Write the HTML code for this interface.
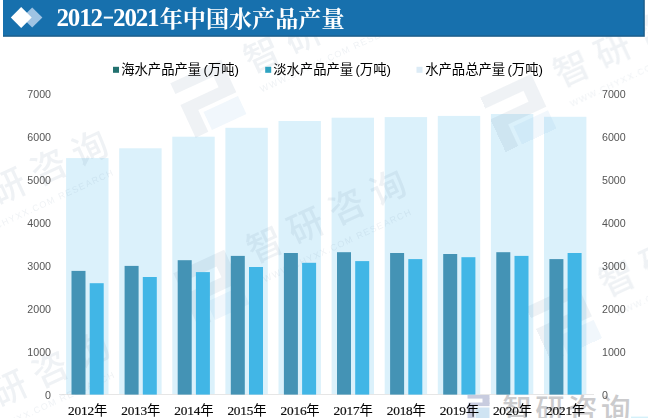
<!DOCTYPE html>
<html lang="zh"><head><meta charset="utf-8"><title>2012-2021年中国水产品产量</title>
<style>
html,body{margin:0;padding:0;background:#fff;}
body{width:648px;height:418px;overflow:hidden;position:relative;font-family:"Liberation Sans",sans-serif;}
#wrap{position:absolute;left:0;top:0;width:648px;height:418px;overflow:hidden;background:#fff;}
#ttl{position:absolute;left:58.3px;top:3.5px;font-family:"Liberation Serif",serif;font-weight:bold;font-size:22.67px;line-height:26px;color:transparent;white-space:nowrap;letter-spacing:0;}
.yl{position:absolute;font-size:10.67px;line-height:12px;height:12px;color:#555;white-space:nowrap;}
.yl.l{left:20px;width:31px;text-align:right;}
.yl.r{left:602px;text-align:left;}
.xl{position:absolute;top:402.5px;letter-spacing:-0.2px;-webkit-text-stroke:0.2px #111;font-family:"Liberation Serif","Noto Sans CJK SC",serif;font-size:13.33px;line-height:15px;color:#111;white-space:nowrap;}
.xl span{font-family:"Liberation Sans","Noto Sans CJK SC",sans-serif;-webkit-text-stroke:0;color:#000;}
.sr{position:absolute;color:transparent;font-size:13px;line-height:15px;white-space:nowrap;overflow:hidden;}
svg{position:absolute;left:0;top:0;}
</style></head><body><div id="wrap">
<svg width="648" height="418" viewBox="0 0 648 418">
<rect x="66.10" y="158.10" width="42.40" height="236.50" fill="#dbf1fb"/>
<rect x="119.20" y="148.30" width="42.40" height="246.30" fill="#dbf1fb"/>
<rect x="172.30" y="136.70" width="42.40" height="257.90" fill="#dbf1fb"/>
<rect x="225.40" y="127.80" width="42.40" height="266.80" fill="#dbf1fb"/>
<rect x="278.50" y="121.00" width="42.40" height="273.60" fill="#dbf1fb"/>
<rect x="331.60" y="117.70" width="42.40" height="276.90" fill="#dbf1fb"/>
<rect x="384.70" y="117.10" width="42.40" height="277.50" fill="#dbf1fb"/>
<rect x="437.80" y="115.90" width="42.40" height="278.70" fill="#dbf1fb"/>
<rect x="490.90" y="114.00" width="42.40" height="280.60" fill="#dbf1fb"/>
<rect x="544.00" y="116.80" width="42.40" height="277.80" fill="#dbf1fb"/>
<rect x="59" y="394" width="535" height="1" fill="#e6e6e6"/>
<rect x="631" y="416.6" width="17" height="1.4" fill="#d5f1fa"/>
<g fill="#cbcbcd"><text y="419.9" x="502.30 535.20 568.10 601.00" font-family="Liberation Sans, Noto Sans CJK SC, sans-serif" font-weight="500" font-size="29.6">智研咨询</text></g><g fill="#c8ccdf"><rect x="467.5" y="395" width="22" height="3.6"/><rect x="482.5" y="398" width="7" height="6"/><rect x="468.5" y="402.5" width="21" height="3.6"/><rect x="467.5" y="405" width="7" height="13"/></g><rect x="475.5" y="407.5" width="14" height="10.5" fill="#cfe4f3"/>
<g fill="#5a7896" opacity="0.095"><g transform="translate(-33.0 205.5) rotate(-24.9)"><text y="12.42" x="-17.75 27.45 72.65 117.85" font-family="Liberation Sans, Noto Sans CJK SC, sans-serif" font-weight="500" font-size="35.5">智研咨询</text><text x="-16" y="34" font-family="Liberation Sans, sans-serif" font-size="9" letter-spacing="1.3">WWW.CHYXX.COM  RESEARCH</text><path d="M-95 -13h56v36h-42v24h-14v-36h42v-12h-42z"/><rect x="-77" y="27" width="38" height="20" fill="#6aa8dc"/></g><g transform="translate(262.0 55.0) rotate(-24.9)"><text y="12.42" x="-17.75 27.45 72.65 117.85" font-family="Liberation Sans, Noto Sans CJK SC, sans-serif" font-weight="500" font-size="35.5">智研咨询</text><text x="-16" y="34" font-family="Liberation Sans, sans-serif" font-size="9" letter-spacing="1.3">WWW.CHYXX.COM  RESEARCH</text><path d="M-95 -13h56v36h-42v24h-14v-36h42v-12h-42z"/><rect x="-77" y="27" width="38" height="20" fill="#6aa8dc"/></g><g transform="translate(572.0 69.4) rotate(-24.9)"><text y="12.42" x="-17.75 27.45 72.65 117.85" font-family="Liberation Sans, Noto Sans CJK SC, sans-serif" font-weight="500" font-size="35.5">智研咨询</text><text x="-16" y="34" font-family="Liberation Sans, sans-serif" font-size="9" letter-spacing="1.3">WWW.CHYXX.COM  RESEARCH</text><path d="M-95 -13h56v36h-42v24h-14v-36h42v-12h-42z"/><rect x="-77" y="27" width="38" height="20" fill="#6aa8dc"/></g><g transform="translate(265.0 245.0) rotate(-24.9)"><text y="12.42" x="-17.75 27.45 72.65 117.85" font-family="Liberation Sans, Noto Sans CJK SC, sans-serif" font-weight="500" font-size="35.5">智研咨询</text><text x="-16" y="34" font-family="Liberation Sans, sans-serif" font-size="9" letter-spacing="1.3">WWW.CHYXX.COM  RESEARCH</text><path d="M-95 -13h56v36h-42v24h-14v-36h42v-12h-42z"/><rect x="-77" y="27" width="38" height="20" fill="#6aa8dc"/></g><g transform="translate(-31.6 407.7) rotate(-24.9)"><text y="12.42" x="-17.75 27.45 72.65 117.85" font-family="Liberation Sans, Noto Sans CJK SC, sans-serif" font-weight="500" font-size="35.5">智研咨询</text><text x="-16" y="34" font-family="Liberation Sans, sans-serif" font-size="9" letter-spacing="1.3">WWW.CHYXX.COM  RESEARCH</text><path d="M-95 -13h56v36h-42v24h-14v-36h42v-12h-42z"/><rect x="-77" y="27" width="38" height="20" fill="#6aa8dc"/></g><g transform="translate(617.6 279.0) rotate(-24.9)"><text y="12.42" x="-17.75 27.45 72.65 117.85" font-family="Liberation Sans, Noto Sans CJK SC, sans-serif" font-weight="500" font-size="35.5">智研咨询</text><text x="-16" y="34" font-family="Liberation Sans, sans-serif" font-size="9" letter-spacing="1.3">WWW.CHYXX.COM  RESEARCH</text><path d="M-95 -13h56v36h-42v24h-14v-36h42v-12h-42z"/><rect x="-77" y="27" width="38" height="20" fill="#6aa8dc"/></g></g>
<rect x="71.50" y="270.90" width="14" height="123.70" fill="#4493b5"/>
<rect x="89.70" y="283.20" width="14" height="111.40" fill="#41b6e6"/>
<rect x="124.60" y="265.90" width="14" height="128.70" fill="#4493b5"/>
<rect x="142.80" y="277.00" width="14" height="117.60" fill="#41b6e6"/>
<rect x="177.70" y="260.20" width="14" height="134.40" fill="#4493b5"/>
<rect x="195.90" y="272.10" width="14" height="122.50" fill="#41b6e6"/>
<rect x="230.80" y="255.90" width="14" height="138.70" fill="#4493b5"/>
<rect x="249.00" y="267.00" width="14" height="127.60" fill="#41b6e6"/>
<rect x="283.90" y="253.00" width="14" height="141.60" fill="#4493b5"/>
<rect x="302.10" y="262.80" width="14" height="131.80" fill="#41b6e6"/>
<rect x="337.00" y="252.20" width="14" height="142.40" fill="#4493b5"/>
<rect x="355.20" y="261.10" width="14" height="133.50" fill="#41b6e6"/>
<rect x="390.10" y="253.00" width="14" height="141.60" fill="#4493b5"/>
<rect x="408.30" y="259.10" width="14" height="135.50" fill="#41b6e6"/>
<rect x="443.20" y="254.00" width="14" height="140.60" fill="#4493b5"/>
<rect x="461.40" y="257.20" width="14" height="137.40" fill="#41b6e6"/>
<rect x="496.30" y="252.20" width="14" height="142.40" fill="#4493b5"/>
<rect x="514.50" y="255.90" width="14" height="138.70" fill="#41b6e6"/>
<rect x="549.40" y="259.10" width="14" height="135.50" fill="#4493b5"/>
<rect x="567.60" y="253.00" width="14" height="141.60" fill="#41b6e6"/>
<rect x="113.0" y="66.8" width="6" height="6" fill="#22716f"/>
<g fill="#000"><text y="73.7" x="121.20 134.53 147.86 161.19 174.52 187.85 203.44 207.85 221.18 234.41" font-family="Liberation Sans, Noto Sans CJK SC, sans-serif" font-size="13.33">海水产品产量(万吨)</text></g>
<rect x="265.2" y="66.8" width="6" height="6" fill="#2fa3c1"/>
<g fill="#000"><text y="73.7" x="273.20 286.53 299.86 313.19 326.52 339.85 355.44 359.84 373.17 386.40" font-family="Liberation Sans, Noto Sans CJK SC, sans-serif" font-size="13.33">淡水产品产量(万吨)</text></g>
<rect x="416.5" y="66.8" width="6" height="6" fill="#dcebf6"/>
<g fill="#000"><text y="73.7" x="425.20 438.53 451.86 465.19 478.52 491.85 507.44 511.84 525.17 538.40" font-family="Liberation Sans, Noto Sans CJK SC, sans-serif" font-size="13.33">水产品总产量(万吨)</text></g>
<rect x="3" y="0" width="641.8" height="36.8" fill="#1c5d89"/><rect x="3" y="0" width="640.4" height="35.4" fill="#1770ad"/>
<polygon points="22,17.6 32.2,7.6 42.4,17.6 32.2,27.6" fill="#9fc3e3"/>
<polygon points="10.8,17.5 21.2,7 31.7,17.5 21.2,28" fill="#fff"/>
<g fill="#fff"><text y="26.6" x="159.70 182.80 205.90 229.00 252.10 275.20 298.30 321.40" font-family="Liberation Serif, Noto Serif CJK SC, serif" font-weight="bold" font-size="23.1">年中国水产品产量</text></g>
<g font-family="Liberation Serif, serif" font-weight="bold" font-size="25" fill="#fff"><text y="25.6" x="56.50 67.82 79.14 90.46">2012</text><rect x="103.8" y="16.6" width="9.2" height="2"/><text y="25.6" x="113.10 124.42 135.74 147.06">2021</text></g></svg>
<div id="ttl">2012-2021年中国水产品产量</div>
<div class="yl l" style="top:388.8px">0</div><div class="yl r" style="top:388.8px">0</div>
<div class="yl l" style="top:345.9px">1000</div><div class="yl r" style="top:345.9px">1000</div>
<div class="yl l" style="top:303.0px">2000</div><div class="yl r" style="top:303.0px">2000</div>
<div class="yl l" style="top:260.1px">3000</div><div class="yl r" style="top:260.1px">3000</div>
<div class="yl l" style="top:217.2px">4000</div><div class="yl r" style="top:217.2px">4000</div>
<div class="yl l" style="top:174.3px">5000</div><div class="yl r" style="top:174.3px">5000</div>
<div class="yl l" style="top:131.3px">6000</div><div class="yl r" style="top:131.3px">6000</div>
<div class="yl l" style="top:88.4px">7000</div><div class="yl r" style="top:88.4px">7000</div>
<div class="xl" style="left:68.10px">2012<span>年</span></div>
<div class="xl" style="left:121.20px">2013<span>年</span></div>
<div class="xl" style="left:174.31px">2014<span>年</span></div>
<div class="xl" style="left:227.41px">2015<span>年</span></div>
<div class="xl" style="left:280.50px">2016<span>年</span></div>
<div class="xl" style="left:333.61px">2017<span>年</span></div>
<div class="xl" style="left:386.71px">2018<span>年</span></div>
<div class="xl" style="left:439.80px">2019<span>年</span></div>
<div class="xl" style="left:492.91px">2020<span>年</span></div>
<div class="xl" style="left:546.00px">2021<span>年</span></div>
<div class="sr" style="left:121.2px;top:61px">海水产品产量(万吨)</div>
<div class="sr" style="left:273.2px;top:61px">淡水产品产量(万吨)</div>
<div class="sr" style="left:425.2px;top:61px">水产品总产量(万吨)</div>
</div></body></html>
